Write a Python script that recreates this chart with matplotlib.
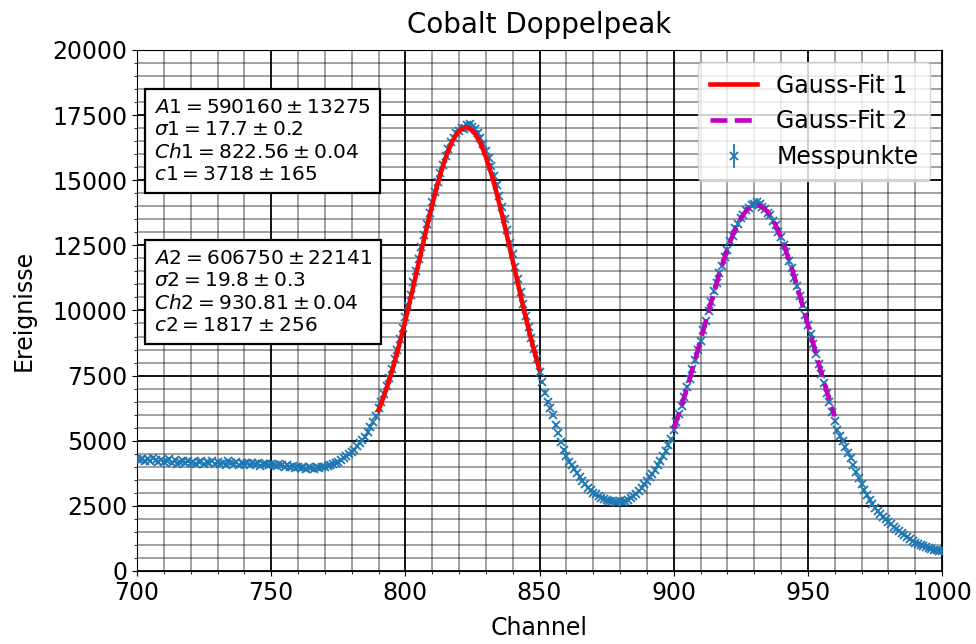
import numpy as np
import matplotlib
matplotlib.use('Agg')
from matplotlib import pyplot as plt

plt.rcParams['font.size'] = 17

channel_start, channel_stop = 700, 1000

# measured counts per channel, 700 ... 1000
counts = [
    4280, 4250, 4310, 4220, 4290, 4240, 4330, 4260, 4200, 4270,
    4180, 4230, 4300, 4150, 4260, 4120, 4190, 4240, 4160, 4210,
    4130, 4200, 4100, 4170, 4220, 4090, 4180, 4140, 4230, 4110,
    4190, 4120, 4160, 4080, 4210, 4130, 4100, 4170, 4060, 4140,
    4110, 4150, 4070, 4130, 4090, 4160, 4040, 4100, 4120, 4060,
    4110, 4080, 4020, 4090, 4050, 4000, 4070, 3990, 4030, 3960,
    4010, 3950, 3990, 3930, 4000, 3960, 3920, 3980, 3970, 4010,
    3990, 4020, 4060, 4110, 4150, 4200, 4260, 4330, 4400, 4480,
    4560, 4660, 4780, 4900, 5020, 5150, 5330, 5520, 5700, 5930,
    6250, 6480, 6800, 7090, 7420, 7760, 8130, 8500, 8900, 9310,
    9740, 10170, 10600, 11080, 11500, 11980, 12420, 12880, 13330, 13760,
    14170, 14560, 14950, 15290, 15600, 15930, 16180, 16450, 16620, 16800,
    16900, 17020, 16980, 17120, 17150, 17060, 16950, 16800, 16610, 16380,
    16130, 15850, 15530, 15180, 14800, 14400, 13980, 13530, 13070, 12600,
    12150, 11670, 11200, 10720, 10260, 9800, 9350, 8930, 8520, 8120,
    7620, 7250, 6850, 6500, 6250, 6000, 5600, 5280, 4950, 4650,
    4400, 4200, 4050, 3900, 3750, 3620, 3470, 3330, 3200, 3100,
    3010, 2950, 2870, 2820, 2780, 2730, 2700, 2680, 2660, 2640,
    2670, 2660, 2700, 2740, 2800, 2870, 2960, 3080, 3200, 3330,
    3460, 3590, 3720, 3880, 4050, 4230, 4400, 4620, 4830, 5050,
    5400, 5720, 6010, 6350, 6680, 7060, 7380, 7760, 8090, 8490,
    8840, 9250, 9590, 9990, 10320, 10730, 11040, 11420, 11720, 12070,
    12330, 12650, 12870, 13150, 13320, 13560, 13670, 13850, 13930, 14050,
    14080, 14180, 14090, 13990, 13900, 13760, 13650, 13440, 13280, 13020,
    12810, 12500, 12250, 11910, 11620, 11250, 10940, 10550, 10210, 9820,
    9450, 9090, 8700, 8330, 7950, 7580, 7200, 6850, 6480, 6100,
    5750, 5400, 5200, 4980, 4750, 4520, 4320, 4050, 3800, 3560,
    3330, 3120, 2900, 2740, 2560, 2420, 2300, 2190, 2090, 1990,
    1880, 1790, 1690, 1620, 1520, 1450, 1370, 1290, 1210, 1160,
    1090, 1040, 990, 950, 910, 880, 850, 820, 790, 770,
    750,
]

# fit parameters (A, sigma, mean, offset) with errors
fit1 = dict(A=590160, A_err=13275, sigma=17.7, sigma_err=0.2,
            mu=822.56, mu_err=0.04, c=3718, c_err=165)
fit2 = dict(A=606750, A_err=22141, sigma=19.8, sigma_err=0.3,
            mu=930.81, mu_err=0.04, c=1817, c_err=256)
fit1_range = (790, 850)
fit2_range = (900, 960)


def gauss(x, A, sigma, mu, c):
    return A / (np.sqrt(2 * np.pi) * sigma) * np.exp(-(x - mu)**2 / (2 * sigma**2)) + c


def fit_text(p, n):
    return ('$A{n} = {A} \\pm {Ae}$\n'
            '$\\sigma{n} = {s} \\pm {se}$\n'
            '$Ch{n} = {m:.2f} \\pm {me:.2f}$\n'
            '$c{n} = {c} \\pm {ce}$').format(
                n=n, A=p['A'], Ae=p['A_err'], s=p['sigma'], se=p['sigma_err'],
                m=p['mu'], me=p['mu_err'], c=p['c'], ce=p['c_err'])


def main():
    x = np.arange(channel_start, channel_stop + 1)
    y = np.array(counts, dtype=float)

    fig = plt.figure(figsize=(9.76, 6.44), dpi=100)
    ax = fig.add_axes([0.1404, 0.1134, 0.8248, 0.8090])

    x1 = np.linspace(*fit1_range, 300)
    x2 = np.linspace(*fit2_range, 300)
    p1 = {k: fit1[k] for k in ('A', 'sigma', 'mu', 'c')}
    p2 = {k: fit2[k] for k in ('A', 'sigma', 'mu', 'c')}

    ax.plot(x1, gauss(x1, **p1), 'r-', lw=3.3, label='Gauss-Fit 1', zorder=3)
    ax.plot(x2, gauss(x2, **p2), 'm--', lw=3.3, label='Gauss-Fit 2', zorder=3)
    ax.errorbar(x, y, yerr=np.sqrt(y), fmt='x', color='C0', ms=5.5,
                mew=1.3, elinewidth=1.3, label='Messpunkte', zorder=2.5)

    ax.set_xlim(channel_start, channel_stop)
    ax.set_ylim(0, 20000)
    ax.set_xticks(np.arange(700, 1001, 50))
    ax.set_yticks(np.arange(0, 20001, 2500))
    ax.minorticks_on()
    ax.grid(which='major', color='k', lw=1.3)
    ax.grid(which='minor', color='k', alpha=0.4, lw=1.3)

    box = dict(boxstyle='square,pad=0.45', facecolor='white', edgecolor='k', lw=1.6)
    ax.text(0.021, 0.908, fit_text(fit1, 1), transform=ax.transAxes,
            fontsize=14.5, va='top', ha='left', linespacing=1.22, bbox=box)
    ax.text(0.021, 0.618, fit_text(fit2, 2), transform=ax.transAxes,
            fontsize=14.5, va='top', ha='left', linespacing=1.22, bbox=box)

    ax.set_title('Cobalt Doppelpeak', fontsize=20, pad=12)
    ax.set_xlabel('Channel', labelpad=8)
    ax.set_ylabel('Ereignisse', labelpad=12)
    ax.legend(loc='upper right', borderpad=0.5)

    fig.savefig('out.png', dpi=100)


if __name__ == '__main__':
    main()
